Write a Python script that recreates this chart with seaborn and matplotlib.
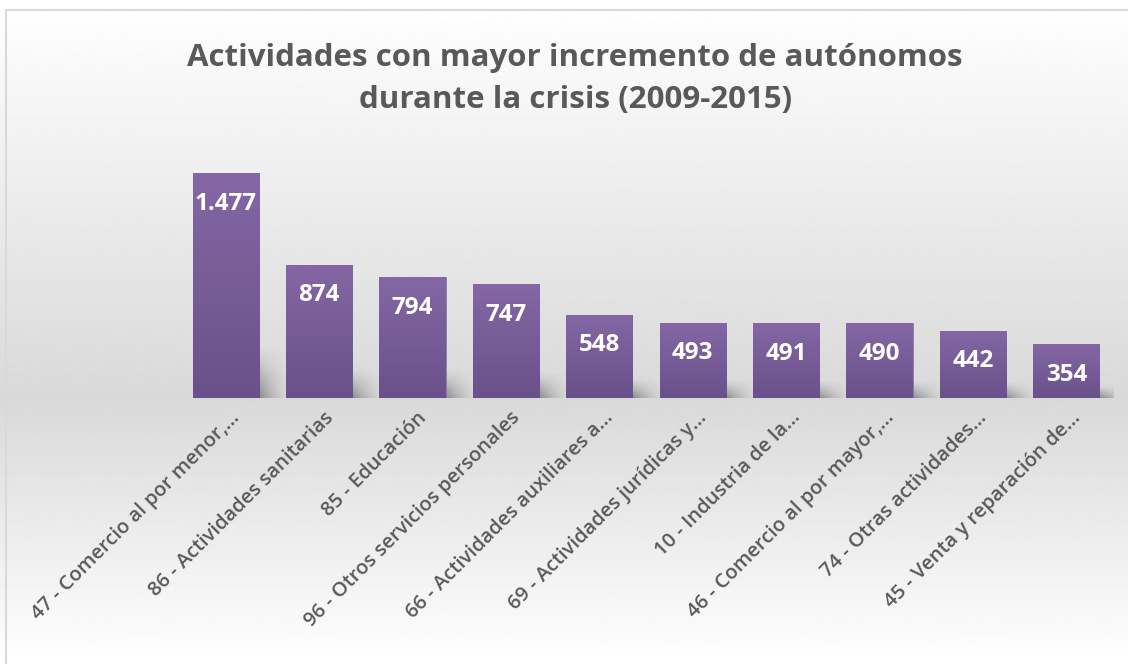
import matplotlib
matplotlib.use('Agg')
import matplotlib.pyplot as plt
from matplotlib.patches import Rectangle
import numpy as np
import pandas as pd
import seaborn as sns

categories = [
    '47 - Comercio al por menor,…',
    '86 - Actividades sanitarias',
    '85 - Educación',
    '96 - Otros servicios personales',
    '66 - Actividades auxiliares a…',
    '69 - Actividades jurídicas y…',
    '10 - Industria de la…',
    '46 - Comercio al por mayor,…',
    '74 - Otras actividades…',
    '45 - Venta y reparación de…',
]
values = [1477, 874, 794, 747, 548, 493, 491, 490, 442, 354]
title = 'Actividades con mayor incremento de autónomos\ndurante la crisis (2009-2015)'

TEXT = '#595959'
BAR_TOP = np.array([132, 103, 164]) / 255
BAR_BOTTOM = np.array([106, 81, 139]) / 255

sns.set_style('white')
plt.rcParams['font.family'] = ['Open Sans', 'DejaVu Sans']

fig = plt.figure(figsize=(11.28, 6.64), dpi=100)

# chart-area background: white -> grey -> white
bg = fig.add_axes([0, 0, 1, 1], zorder=-10)
t = np.linspace(0, 1, 400)
shade = np.interp(t, [0, 0.6, 1.0], [1.0, 0.85, 1.0])
bg.imshow(shade[:, None], cmap='gray', vmin=0, vmax=1, aspect='auto',
          extent=[0, 1, 0, 1])
bg.set_axis_off()
fig.patches.append(Rectangle((6 / 1128, -0.01), 1.1, 1 - 10 / 664 + 0.01,
                             transform=fig.transFigure, fill=False,
                             edgecolor='#d9d9d9', linewidth=1.5))

ax = fig.add_axes([0.1587, 0.4006, 0.8280, 0.3670])
ax.patch.set_alpha(0)
df = pd.DataFrame({'cat': categories, 'val': values})
sns.barplot(data=df, x='cat', y='val', ax=ax, color=BAR_TOP, width=0.71,
            saturation=1)
ax.set_ylim(0, 1600)
ax.set_xlim(-0.5, len(values) - 0.5)

# vertical gradient inside each bar + soft shadow behind it
grad = np.linspace(0, 1, 100)[:, None, None]
img = BAR_TOP * (1 - grad) + BAR_BOTTOM * grad
sx = np.linspace(0, 1, 80)
sy = np.linspace(1, 0, 80)  # image rows go top -> bottom
fx = (1 - sx) ** 1.5
fy = (1 - sy) ** 1.3
shadow = np.zeros((80, 80, 4))
shadow[..., 3] = 0.55 * fy[:, None] * fx[None, :]
for bar in ax.patches:
    x0, w, h = bar.get_x(), bar.get_width(), bar.get_height()
    ax.imshow(shadow, extent=[x0 + w * 0.85, x0 + w + 0.34, 0, h * 0.24],
              aspect='auto', zorder=1, interpolation='bilinear')
    bar.set_zorder(2)
    bar.set_edgecolor('#8f7aad')
    bar.set_linewidth(0.6)
    im = ax.imshow(img, extent=[x0, x0 + w, 0, h], aspect='auto', zorder=2.5)
    im.set_clip_path(bar)

for i, v in enumerate(values):
    ax.annotate(f'{v:,}'.replace(',', '.'), (i, v), xytext=(0, -22),
                textcoords='offset points', ha='center', va='center',
                color='white', fontsize=17.5, fontweight='bold', zorder=5)

# category labels, rotated 45 degrees and ending under each bar
ax.set_xticks([])
for i, cat in enumerate(categories):
    ax.annotate(cat, (i, 0), xytext=(3, -7), textcoords='offset points',
                rotation=45, ha='right', va='top', rotation_mode='anchor',
                fontsize=14.5, color=TEXT, fontweight='semibold',
                annotation_clip=False)
ax.set_yticks([])
ax.set_xlabel('')
ax.set_ylabel('')
sns.despine(ax=ax, left=True, bottom=True)

fig.text(0.51, 0.881, title, ha='center', va='center', fontsize=22.5,
         fontweight='bold', color=TEXT, linespacing=1.55)

fig.savefig('out.png', dpi=100)
